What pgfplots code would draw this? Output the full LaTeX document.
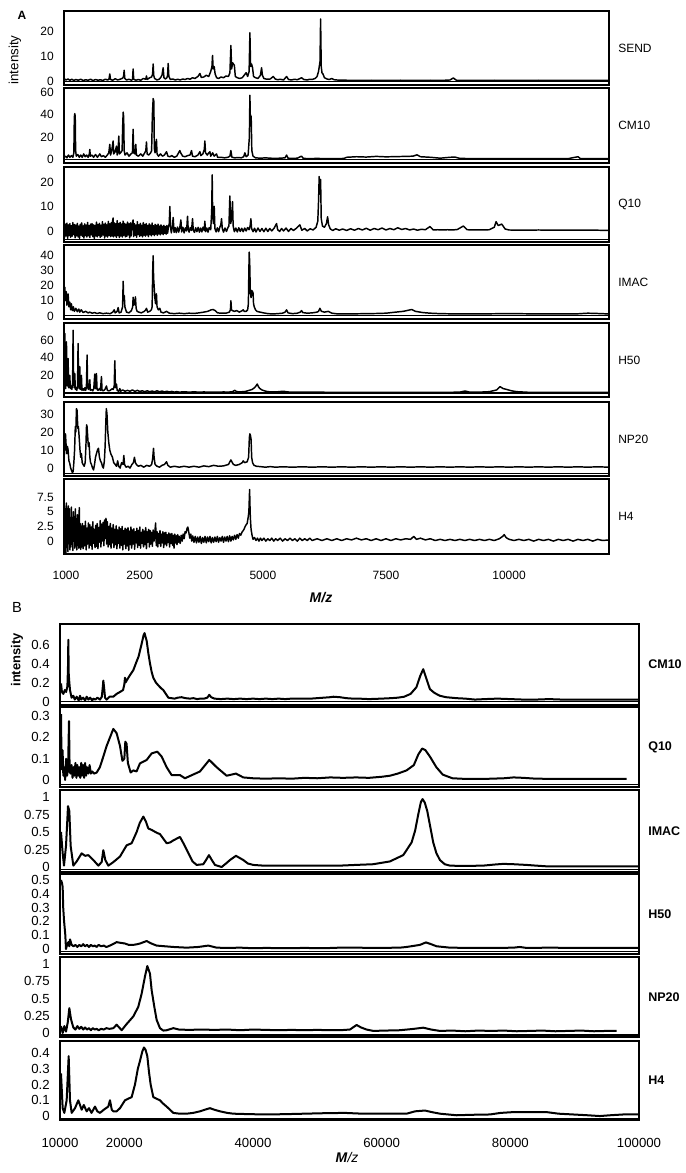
\documentclass[border=0pt]{standalone}
\usepackage{pgfplots}
\pgfplotsset{compat=1.18}
\usepackage{fontspec}
\setmainfont{Liberation Sans}
\pgfplotsset{
 basepanel/.style={scale only axis, anchor=north west, major tick length=0pt, clip mode=individual,
   xtick=\empty, scaled x ticks=false, scaled y ticks=false, /pgf/number format/assume math mode=true,
   extra y tick labels={}, extra y tick style={grid=major, major grid style={black, line width=0.8pt}}},
 panelA/.style={basepanel, width=408.75pt, xmin=960, xmax=12030, axis line style={line width=1.3pt},
   yticklabel style={font=\fontsize{9}{10}\selectfont, inner sep=0pt, xshift=-7.5pt}},
 panelB/.style={basepanel, width=434.25pt, xmin=10000, xmax=100000, axis line style={line width=0.9pt},
   yticklabel style={font=\fontsize{9.9}{11}\selectfont, inner sep=0pt, xshift=-7.5pt}},
 specA/.style={black, line width=1.1pt, line join=round},
 specB/.style={black, line width=1.5pt, line join=round},
}
\tikzset{
 labA/.style={anchor=west, inner sep=0pt, xshift=6.75pt, font=\fontsize{9}{10}\selectfont},
 labB/.style={anchor=west, inner sep=0pt, xshift=6.75pt, font=\bfseries\fontsize{9.4}{10}\selectfont},
}
\begin{document}
\begin{tikzpicture}
\path[use as bounding box] (0,0) rectangle (513.75pt,879.75pt);
% ---------------- Panel A ----------------
\begin{axis}[panelA, at={(48pt,871.5pt)}, height=55.5pt, ymin=-1.4, ymax=28.2,
  ytick={0,10,20}, yticklabels={0,10,20}, extra y ticks={0}]
\addplot[specA] coordinates {(960,1.2)(1000,0.6)(1040,1.0)(1080,0.5)(1120,0.9)(1160,0.4)(1200,0.8)(1250,0.5)(1300,0.9)(1350,0.4)(1400,0.7)(1450,0.5)(1500,0.9)(1550,0.4)(1600,0.8)(1650,0.5)(1700,0.7)(1750,0.4)(1800,0.9)(1850,0.6)(1875,1.0)(1890,3.0)(1905,0.8)(1950,0.5)(2000,1.1)(2050,0.6)(2100,0.9)(2150,1.3)(2170,2.0)(2182,4.5)(2195,1.2)(2230,0.6)(2280,0.9)(2330,0.5)(2352,0.8)(2364,5.0)(2376,0.9)(2420,0.5)(2470,0.8)(2520,0.5)(2570,1.2)(2620,0.9)(2635,2.2)(2650,0.8)(2700,1.5)(2740,1.8)(2760,3.0)(2771,7.0)(2782,2.5)(2800,1.2)(2850,0.6)(2900,1.0)(2930,1.8)(2950,2.5)(2974,5.5)(2990,1.5)(3020,1.0)(3050,1.5)(3064,2.5)(3076,7.2)(3090,2.0)(3120,0.8)(3170,1.0)(3220,0.6)(3270,0.9)(3320,0.6)(3370,1.0)(3420,0.8)(3470,1.2)(3520,0.9)(3570,1.5)(3620,1.2)(3680,2.0)(3720,3.2)(3750,1.6)(3800,1.8)(3850,2.5)(3900,2.0)(3940,4.0)(3965,6.0)(3977,10.4)(3990,5.0)(4010,6.0)(4030,3.0)(4060,1.5)(4100,1.2)(4150,1.8)(4200,1.5)(4250,2.2)(4300,2.0)(4330,3.5)(4350,14.4)(4365,5.0)(4385,7.5)(4400,7.0)(4420,6.5)(4440,2.0)(4480,1.5)(4530,1.2)(4580,1.5)(4620,2.5)(4660,3.5)(4690,2.0)(4720,4.0)(4736,19.5)(4750,6.0)(4770,7.0)(4790,5.5)(4810,2.0)(4850,1.5)(4900,1.2)(4950,2.5)(4973,5.5)(4990,2.5)(5020,1.2)(5080,0.9)(5150,1.0)(5210,2.0)(5250,1.0)(5300,0.7)(5350,0.9)(5420,0.6)(5481,2.0)(5520,0.8)(5580,0.6)(5640,0.9)(5700,0.7)(5785,1.5)(5830,0.8)(5900,0.6)(5950,0.9)(6000,0.8)(6060,1.2)(6100,2.0)(6130,4.0)(6160,8.0)(6172,25.0)(6185,6.0)(6200,3.5)(6220,3.0)(6250,1.5)(6300,1.0)(6350,0.8)(6400,1.2)(6450,0.7)(6500,0.6)(6600,0.5)(6700,0.5)(6800,0.4)(6900,0.5)(7000,0.4)(7200,0.5)(7400,0.4)(7600,0.4)(7800,0.5)(8000,0.4)(8200,0.4)(8400,0.5)(8600,0.4)(8800,0.6)(8868,1.4)(8930,0.5)(9100,0.4)(9400,0.4)(9700,0.5)(10000,0.4)(10300,0.4)(10600,0.5)(10900,0.4)(11200,0.4)(11500,0.4)(11800,0.4)(12030,0.4)};
\node[labA] at (rel axis cs:1,0.5) {SEND};
\end{axis}
\begin{axis}[panelA, at={(48pt,813.75pt)}, height=56.25pt, ymin=-3.1, ymax=64,
  ytick={0,20,40,60}, yticklabels={0,20,40,60}, extra y ticks={0}]
\addplot[specA] coordinates {(960,2)(990,3)(1020,1.5)(1050,4)(1080,2)(1110,3.5)(1140,2)(1160,6)(1170,38)(1179,41)(1188,39)(1196,8)(1210,3)(1240,4.5)(1270,2)(1300,4)(1330,2)(1360,5)(1390,2.5)(1420,4)(1450,2)(1475,5)(1484,9)(1495,3)(1530,4)(1560,2)(1600,4.5)(1640,2)(1687,5)(1720,2.5)(1760,3.5)(1800,2)(1840,4)(1870,6)(1890,13.6)(1905,4)(1930,8)(1958,16.6)(1970,5)(2000,7)(2026,12)(2040,4)(2060,9)(2073,21)(2085,5)(2110,6)(2140,8)(2152,30)(2162,42.4)(2172,38)(2182,8)(2200,4)(2240,6)(2280,3)(2320,5)(2350,6)(2364,27)(2376,6)(2405,5)(2418,13.6)(2430,4)(2470,3)(2520,5)(2560,3)(2600,6)(2622,8)(2635,15.7)(2648,5)(2680,4)(2720,6)(2740,8)(2755,40)(2771,54.5)(2785,52)(2795,10)(2810,6)(2838,18)(2850,5)(2880,3)(2920,5)(2960,3)(3000,4)(3042,7)(3070,3)(3110,2.5)(3150,3.5)(3200,2)(3250,3)(3300,7)(3313,8)(3330,6)(3370,3)(3420,2.5)(3470,3.5)(3520,4)(3550,8)(3570,3)(3620,2.5)(3680,4)(3720,7)(3740,3.5)(3780,5)(3810,9)(3821,16.6)(3835,6)(3870,4)(3900,6)(3923,7)(3940,3)(3980,6)(4010,3)(4058,5)(4080,2)(4150,2)(4220,1.5)(4290,2)(4330,3)(4350,8)(4370,2)(4430,1.5)(4500,1.8)(4560,1.5)(4610,2.5)(4634,6)(4660,2.5)(4700,4)(4725,20)(4736,57.5)(4748,30)(4762,38.8)(4775,8)(4800,3)(4850,1.5)(4950,1.2)(5050,1.5)(5150,1.2)(5250,1.0)(5350,1.2)(5450,1.5)(5481,4)(5510,1.2)(5600,1.0)(5700,1.2)(5785,3)(5820,1.0)(5950,0.8)(6100,1.0)(6250,0.8)(6400,0.8)(6550,0.8)(6650,1.0)(6700,2.0)(6900,2.5)(7100,2.2)(7300,2.8)(7500,2.4)(7700,2.6)(7900,2.8)(8050,3.0)(8130,4.2)(8200,2.5)(8400,2.0)(8600,1.2)(8800,2.0)(8900,2.2)(9000,1.0)(9300,0.8)(9600,0.8)(10000,0.8)(10400,0.8)(10800,0.8)(11200,0.8)(11400,2.5)(11450,0.8)(11800,0.8)(12030,0.8)};
\node[labA] at (rel axis cs:1,0.5) {CM10};
\end{axis}
\begin{axis}[panelA, at={(48pt,754.5pt)}, height=56.25pt, ymin=-4.5, ymax=26.1,
  ytick={0,10,20}, yticklabels={0,10,20}, extra y ticks={-3.3}]
\addplot[specA] coordinates {(960,3)(975,-2.5)(990,2.8)(1005,-2)(1020,3.2)(1035,-3)(1050,2.5)(1065,-1.8)(1080,3)(1095,-2.6)(1110,2.2)(1125,-2.2)(1140,3.4)(1155,-1.5)(1170,2.6)(1185,-2.8)(1200,2.4)(1215,-2)(1230,3.1)(1245,-2.4)(1260,2)(1275,-3)(1290,2.7)(1305,-1.7)(1320,3.3)(1335,-2.2)(1350,2.1)(1365,-2.9)(1380,2.9)(1395,-1.9)(1410,2.4)(1425,-2.5)(1440,3.5)(1455,-2)(1470,2.2)(1485,-2.7)(1500,2.8)(1515,-1.6)(1530,3)(1545,-2.3)(1560,2.5)(1575,-3.1)(1590,2.3)(1605,-2)(1620,3.6)(1635,-2.4)(1650,2.6)(1665,-1.8)(1680,3.1)(1695,-2.6)(1710,2.4)(1725,-2.2)(1740,3.8)(1755,-1.7)(1770,2.7)(1785,-2.9)(1800,3.2)(1815,-2.1)(1830,2.5)(1845,-2.5)(1860,3.9)(1875,-1.8)(1890,2.9)(1905,-2.3)(1920,3.4)(1935,-2)(1950,4.5)(1958,5.3)(1965,-2.4)(1980,3.3)(1995,-2)(2010,3)(2025,-2.6)(2040,4.2)(2055,-1.9)(2070,3)(2085,-2.7)(2100,3.5)(2115,-2.1)(2130,2.8)(2145,-2.5)(2160,4)(2175,-1.8)(2190,3.1)(2205,-2.4)(2220,2.7)(2235,-2.2)(2250,3.6)(2265,-1.6)(2280,2.9)(2295,-2.8)(2310,3.3)(2325,-2)(2340,2.6)(2352,3.5)(2364,4.5)(2376,-2.3)(2390,3)(2405,-1.8)(2420,2.4)(2435,-2.6)(2450,3.8)(2465,-1.5)(2480,2.5)(2495,-2.2)(2510,3.1)(2525,-1.9)(2540,2.3)(2555,-2.4)(2570,3.4)(2585,-1.7)(2600,2.6)(2615,-2.1)(2630,3)(2645,-1.6)(2660,2.2)(2675,-2.3)(2690,2.9)(2705,-1.5)(2720,2.4)(2735,-2)(2750,3.2)(2765,-1.4)(2780,2.1)(2795,-1.9)(2810,2.7)(2825,-1.3)(2840,2.3)(2855,-1.8)(2870,2.8)(2885,-1.2)(2900,2)(2915,-1.6)(2930,2.5)(2945,-1.1)(2960,1.9)(2975,-1.5)(2990,2.3)(3005,-1)(3020,1.8)(3035,-1.3)(3050,2.2)(3065,-0.9)(3080,1.5)(3098,3)(3110,10)(3122,2)(3140,-0.8)(3160,1.5)(3178,5.5)(3195,-0.6)(3215,1.4)(3240,-0.7)(3265,1.6)(3290,-0.5)(3310,1.2)(3334,4.5)(3350,-0.4)(3375,1.5)(3400,-0.8)(3425,1.3)(3450,0)(3469,6)(3482,1)(3500,-0.5)(3525,1.4)(3550,0.2)(3571,5)(3585,0.5)(3610,-0.6)(3635,1.3)(3660,-0.3)(3685,1.5)(3710,-0.5)(3735,1.2)(3760,-0.4)(3785,1.6)(3810,0.2)(3821,4)(3835,-0.3)(3860,1.2)(3885,-0.5)(3910,1.4)(3940,0.5)(3960,8)(3970,22.9)(3980,6)(3996,3)(4011,10)(4025,1)(4050,-0.4)(4075,1.3)(4100,-0.3)(4125,1.5)(4145,2.5)(4160,5)(4175,1)(4200,-0.5)(4230,1.2)(4260,-0.2)(4290,1.4)(4310,2)(4329,14.3)(4345,3)(4365,5)(4383,12)(4396,2)(4420,-0.3)(4450,1.2)(4480,-0.4)(4510,1.3)(4540,-0.2)(4570,1.1)(4600,-0.3)(4630,1.2)(4660,0)(4690,1.4)(4720,0.5)(4740,2)(4756,5)(4770,1)(4800,-0.3)(4830,1.1)(4860,-0.4)(4900,1.2)(4940,-0.2)(4980,1.0)(5020,-0.3)(5060,1.1)(5100,-0.2)(5140,1.0)(5180,0)(5230,1.2)(5277,3)(5300,0.5)(5340,-0.2)(5380,1.0)(5420,0)(5470,1.2)(5520,-0.2)(5570,1.0)(5620,0.2)(5680,1.1)(5751,2.5)(5790,0.3)(5850,1.0)(5900,0)(5960,0.9)(6020,0.4)(6080,1.5)(6115,4)(6130,12)(6143,22.2)(6160,15)(6172,21)(6185,5)(6210,2)(6250,1.5)(6290,3)(6314,5.8)(6335,2.5)(6370,0.8)(6420,0.2)(6480,0.9)(6550,0.3)(6620,0.8)(6700,0.2)(6780,0.9)(6860,0.3)(6940,1)(7020,0.4)(7100,1.1)(7180,0.3)(7260,1)(7340,0.5)(7420,1.2)(7500,0.4)(7580,1)(7660,0.5)(7740,1.3)(7820,0.6)(7900,1)(7980,0.4)(8060,0.8)(8140,0.3)(8220,0.7)(8300,0.5)(8394,1.8)(8460,0.4)(8550,0.5)(8650,0.4)(8750,0.5)(8850,0.4)(8950,0.6)(9071,2)(9150,0.5)(9300,0.4)(9450,0.4)(9600,0.5)(9700,1.5)(9736,3.8)(9780,2.2)(9851,2.8)(9920,0.8)(10000,0.4)(10200,0.3)(10400,0.3)(10600,0.4)(10800,0.3)(11000,0.3)(11200,0.3)(11400,0.3)(11600,0.3)(11800,0.3)(12030,0.2)};
\node[labA] at (rel axis cs:1,0.5) {Q10};
\end{axis}
\begin{axis}[panelA, at={(48pt,696pt)}, height=55.5pt, ymin=-2, ymax=46.5,
  ytick={0,10,20,30,40}, yticklabels={0,10,20,30,40}, extra y ticks={0}]
\addplot[specA] coordinates {(960,19)(976,18.8)(990,10)(1005,16)(1020,7)(1043,14.4)(1060,6)(1080,9)(1095,4)(1110,8)(1130,3.5)(1150,6)(1170,3)(1200,5)(1230,2.8)(1260,4.5)(1280,2.5)(1310,4)(1350,2.2)(1400,3)(1450,2)(1484,2.5)(1530,1.8)(1580,2.2)(1630,1.6)(1687,2)(1750,1.5)(1820,1.8)(1900,1.5)(1950,2.5)(1980,4)(2000,2)(2040,3)(2060,5.5)(2080,2)(2120,2.5)(2150,6)(2162,22.7)(2172,10)(2185,13.3)(2196,6)(2215,4)(2230,2.5)(2280,2)(2330,3.5)(2355,6)(2364,12.2)(2375,7)(2395,8)(2411,12.5)(2425,5)(2445,3)(2480,2.5)(2530,2)(2590,3)(2620,4)(2635,5)(2660,2.5)(2700,3)(2735,4)(2750,6)(2762,30)(2771,39.5)(2780,25)(2790,20)(2805,12)(2820,8)(2838,14.4)(2850,6)(2875,4)(2906,5)(2930,2.5)(2980,2)(3042,3)(3100,1.8)(3200,1.5)(3300,1.8)(3400,1.5)(3500,1.8)(3600,1.6)(3700,2)(3800,2.5)(3880,3)(3950,4)(3990,4.2)(4030,3.5)(4080,2)(4150,1.8)(4250,1.8)(4320,2.5)(4340,4)(4350,10)(4362,4)(4380,3.5)(4420,3)(4470,3.5)(4520,2.5)(4580,3.5)(4600,4)(4620,3)(4660,3)(4690,4)(4705,8)(4715,30)(4722,41.8)(4732,35)(4745,15)(4760,12)(4775,16.6)(4790,16)(4800,15)(4810,8)(4824,6)(4850,4)(4878,3)(4940,2.5)(5013,2)(5100,1.5)(5200,1.3)(5300,1.5)(5400,1.8)(5450,2.5)(5481,4)(5510,2)(5600,1.5)(5700,1.8)(5760,2.5)(5785,3.5)(5810,2.2)(5900,1.8)(6000,2)(6100,2.5)(6130,3)(6158,5)(6190,3)(6250,2.5)(6328,3)(6400,1.8)(6500,1.4)(6700,1.3)(6900,1.4)(7100,1.5)(7300,1.6)(7500,1.8)(7700,2.5)(7850,3)(8022,4.2)(8100,3)(8250,2.2)(8400,1.8)(8600,1.5)(8800,1.4)(9000,1.4)(9300,1.3)(9600,1.4)(9900,1.5)(10100,1.5)(10400,1.4)(10700,1.3)(11000,1.3)(11400,1.4)(11600,1.8)(11800,1.6)(12030,1.3)};
\node[labA] at (rel axis cs:1,0.5) {IMAC};
\end{axis}
\begin{axis}[panelA, at={(48pt,637.5pt)}, height=55.5pt, ymin=-4.5, ymax=79.3,
  ytick={0,20,40,60}, yticklabels={0,20,40,60}, extra y ticks={0}]
\addplot[specA] coordinates {(960,65)(970,30)(976,67.6)(985,20)(995,5)(1010,58)(1020,15)(1030,8)(1043,39)(1055,6)(1065,10)(1077,20)(1090,5)(1105,8)(1120,4)(1135,12)(1145,71)(1155,15)(1165,6)(1179,22)(1190,4)(1205,6)(1220,3)(1235,8)(1246,56)(1256,12)(1266,5)(1280,30)(1292,4)(1305,6)(1314,20)(1325,3)(1345,5)(1365,3)(1385,6)(1400,3)(1415,6)(1429,43)(1440,8)(1455,4)(1470,6)(1484,15)(1495,3)(1520,4)(1545,2.5)(1565,5)(1585,21.5)(1600,5)(1619,22)(1632,4)(1650,3)(1680,5)(1700,3)(1721,18.5)(1733,3)(1760,2.5)(1790,4)(1823,8)(1840,3)(1870,2.5)(1900,3)(1940,5)(1960,4)(1980,8)(1992,36.6)(2005,6)(2026,10)(2040,3)(2070,2)(2094,5)(2110,2)(2150,3.5)(2200,2)(2250,3)(2300,2)(2350,3.5)(2400,1.8)(2450,3)(2500,1.8)(2550,2.5)(2600,1.5)(2650,2.5)(2700,1.5)(2750,2.2)(2800,1.4)(2850,2.5)(2900,1.4)(2950,2.2)(3000,1.2)(3050,2)(3100,1.2)(3150,1.8)(3200,1)(3250,1.6)(3300,1)(3400,1.4)(3500,1)(3600,1.3)(3700,1)(3800,1.2)(3900,1)(4000,1.1)(4100,1)(4200,1.2)(4300,1)(4380,1.5)(4430,3)(4470,1.5)(4550,1.3)(4650,1.8)(4720,3)(4780,4)(4830,6)(4860,8)(4885,10.2)(4910,7)(4940,5)(4980,3.5)(5030,2.5)(5100,1.5)(5200,1.2)(5300,1.4)(5413,2)(5500,1.2)(5600,1)(5700,1)(5800,1.1)(6000,0.9)(6200,0.9)(6400,0.8)(6700,0.8)(7000,0.8)(7300,0.8)(7600,0.8)(7900,0.8)(8200,0.8)(8500,0.8)(8800,0.8)(9000,1)(9106,2.3)(9200,1)(9400,1)(9600,1.5)(9750,3.5)(9817,7.2)(9880,5)(9953,4)(10050,2.5)(10156,1.5)(10400,0.8)(10800,0.8)(11200,0.8)(11600,0.8)(12030,0.8)};
\node[labA] at (rel axis cs:1,0.5) {H50};
\end{axis}
\begin{axis}[panelA, at={(48pt,578.25pt)}, height=55.5pt, ymin=-4.4, ymax=36.7,
  ytick={0,10,20,30}, yticklabels={0,10,20,30}, extra y ticks={-2.8}]
\addplot[specA] coordinates {(960,5)(976,12)(990,19)(1000,14)(1015,8)(1030,12)(1043,10)(1060,4)(1077,2.6)(1095,0)(1110,-1)(1130,-2.5)(1145,-2)(1160,3)(1175,10)(1190,23)(1200,20)(1213,33)(1226,32)(1240,22)(1252,23)(1266,18)(1285,10)(1300,6)(1314,8)(1330,3)(1348,2)(1370,1)(1390,3)(1405,12)(1418,24)(1429,23)(1440,18)(1455,12)(1470,14)(1485,6)(1500,3)(1518,2)(1540,0)(1560,-1)(1580,2)(1600,6)(1619,8)(1640,10)(1660,11)(1680,6)(1700,4)(1721,3)(1740,1)(1760,0)(1780,4)(1795,12)(1809,25)(1820,33)(1833,30)(1850,20)(1870,14)(1890,10)(1910,8)(1944,6)(1970,3)(2000,2)(2026,1)(2050,4)(2070,1)(2100,0)(2130,3)(2160,2)(2175,7)(2190,2)(2220,0.5)(2260,1)(2300,0)(2340,2)(2370,3)(2391,6)(2410,3)(2430,2)(2470,1)(2520,1.5)(2580,0.5)(2640,1.5)(2700,1)(2740,2)(2760,5)(2778,11)(2790,6)(2810,2)(2850,1)(2900,0.5)(2950,1.5)(3000,2)(3042,3.5)(3070,1.5)(3120,0.5)(3200,1)(3300,0.5)(3400,1)(3500,0.5)(3600,1)(3700,0.5)(3800,1.2)(3900,0.8)(4000,1.5)(4100,1)(4200,1.2)(4300,2)(4350,4.5)(4400,2)(4450,1.5)(4520,2)(4580,3)(4600,4)(4630,3)(4680,3.5)(4710,6)(4725,17)(4736,19)(4748,18)(4760,16)(4772,6)(4790,3)(4820,1.5)(4870,1)(4950,0.8)(5050,0.5)(5150,0.8)(5250,0.5)(5400,0.7)(5600,0.5)(5800,0.7)(6000,0.5)(6200,0.7)(6400,0.5)(6600,0.7)(6800,0.5)(7000,0.7)(7200,0.5)(7400,0.7)(7600,0.5)(7800,0.7)(8000,0.5)(8200,0.7)(8400,0.5)(8600,0.7)(8800,0.5)(9000,0.7)(9200,0.5)(9400,0.7)(9600,0.5)(9800,0.7)(10000,0.5)(10200,0.7)(10400,0.5)(10600,0.7)(10800,0.5)(11000,0.7)(11200,0.5)(11400,0.7)(11600,0.5)(11800,0.7)(12030,0.5)};
\node[labA] at (rel axis cs:1,0.5) {NP20};
\end{axis}
\begin{axis}[panelA, at={(48pt,520.5pt)}, height=56.25pt, ymin=-2.2, ymax=10.6,
  ytick={0,2.5,5,7.5}, yticklabels={0,2.5,5,7.5},
  xtick={1000,2500,5000,7500,10000}, xticklabels={1000,2500,5000,7500,10000},
  xticklabel style={font=\fontsize{9}{10}\selectfont, inner sep=0pt, anchor=north, yshift=-12.5pt}]
\addplot[specA] coordinates {(960,1)(970,6)(980,-1.5)(990,5)(1000,-2)(1010,6.5)(1020,-1)(1030,4.5)(1040,-1.8)(1050,6)(1060,0)(1070,5.5)(1080,-1.5)(1090,4)(1100,-1)(1110,5.8)(1120,-0.5)(1130,3.5)(1140,-1.6)(1150,5)(1160,0.5)(1170,4.2)(1180,-1.2)(1190,5.5)(1200,-0.8)(1210,3.8)(1220,-1.5)(1230,4.5)(1240,0)(1250,3.2)(1260,-1.2)(1270,5.7)(1280,-0.6)(1290,3)(1300,-1.4)(1310,2.5)(1320,-1)(1335,3)(1350,-1.3)(1365,2.6)(1380,-0.8)(1395,3.4)(1410,-1.5)(1425,2.2)(1440,-0.5)(1455,3.1)(1470,-1.2)(1485,2.8)(1500,-0.7)(1515,2.4)(1530,-1.4)(1545,3.3)(1560,-0.4)(1575,2)(1590,-1.1)(1605,2.7)(1620,-0.9)(1635,3)(1650,-1.3)(1665,2.3)(1680,-0.2)(1695,3.5)(1710,-1)(1725,2.9)(1740,0)(1755,3.2)(1770,-0.8)(1785,3.6)(1800,0.5)(1813,3.9)(1825,-0.5)(1840,3.3)(1855,-1)(1870,2.5)(1885,-0.6)(1900,3)(1915,-1.2)(1930,2.2)(1945,-0.3)(1960,2.8)(1975,-1.1)(1990,2)(2005,-0.6)(2020,2.6)(2035,-1.3)(2050,1.9)(2065,-0.4)(2080,2.4)(2095,-1.2)(2110,2.1)(2125,-0.7)(2140,2.5)(2155,-1.5)(2170,1.8)(2185,-0.5)(2200,2.2)(2215,-1.3)(2230,2)(2245,-0.8)(2260,2.3)(2275,-1.6)(2290,1.7)(2305,-0.6)(2320,2.4)(2335,-1.2)(2350,1.9)(2365,-0.5)(2380,2.1)(2395,-1.4)(2410,1.6)(2425,-0.3)(2440,2.2)(2455,-1.1)(2470,1.8)(2485,-0.7)(2500,2.4)(2515,-1.2)(2530,1.5)(2545,-0.4)(2560,2)(2575,-1)(2590,1.7)(2605,-0.6)(2620,2.3)(2635,-1.3)(2650,1.6)(2665,-0.2)(2680,2)(2695,-1)(2710,1.8)(2725,-0.5)(2740,1.5)(2755,-0.9)(2770,1.9)(2790,0)(2805,1.5)(2821,3.1)(2835,-0.8)(2850,1.6)(2865,-1)(2880,1.3)(2895,-0.4)(2910,1.8)(2925,-0.9)(2940,1.2)(2955,-0.3)(2970,1.6)(2985,-1.1)(3000,1.4)(3015,-0.5)(3030,1.5)(3045,-0.8)(3060,1.1)(3075,-0.2)(3090,1.4)(3105,-1)(3120,1.2)(3135,-0.4)(3150,1.3)(3165,-0.7)(3180,1)(3195,-1.2)(3210,1.2)(3225,-0.3)(3240,0.9)(3255,-0.6)(3270,1.1)(3285,-0.2)(3300,0.8)(3320,-0.4)(3340,1)(3360,0)(3380,1.2)(3400,0.4)(3420,1.6)(3440,1.4)(3460,2.2)(3476,2.4)(3495,1.5)(3515,0.5)(3535,1.2)(3555,0)(3575,0.9)(3600,-0.2)(3625,0.8)(3650,-0.3)(3675,0.7)(3700,-0.2)(3725,0.8)(3750,-0.4)(3775,0.6)(3800,-0.2)(3825,0.8)(3850,-0.3)(3875,0.7)(3900,-0.1)(3925,0.8)(3950,-0.3)(3975,0.6)(4000,-0.2)(4025,0.7)(4050,-0.1)(4075,0.8)(4100,-0.2)(4125,0.6)(4150,0)(4175,0.8)(4200,-0.2)(4225,0.7)(4250,0)(4275,0.8)(4300,-0.1)(4325,0.9)(4350,0)(4375,0.8)(4400,0.2)(4425,1)(4450,0.3)(4475,1.1)(4500,0.5)(4525,1.3)(4550,1)(4580,1.6)(4610,1.9)(4640,2.5)(4660,2.8)(4680,3)(4700,4)(4715,5)(4730,8.8)(4738,6)(4745,4)(4760,2)(4780,1)(4800,0.3)(4830,0.6)(4860,0.1)(4890,0.5)(4920,0)(4950,0.5)(4980,0.1)(5020,0.5)(5060,0)(5100,0.4)(5140,0.1)(5180,0.5)(5220,0)(5260,0.4)(5300,0.1)(5350,0.5)(5400,0)(5450,0.4)(5500,0.1)(5550,0.5)(5600,0.1)(5650,0.4)(5700,0)(5750,0.5)(5800,0.1)(5850,0.4)(5900,0.1)(5950,0.5)(6000,0.1)(6100,0.4)(6200,0.1)(6300,0.4)(6400,0.1)(6500,0.4)(6600,0.1)(6700,0.4)(6800,0.2)(6900,0.5)(7000,0.2)(7100,0.4)(7200,0.1)(7300,0.4)(7400,0.1)(7500,0.4)(7600,0.1)(7700,0.4)(7800,0.2)(7900,0.4)(8000,0.3)(8063,0.8)(8120,0.3)(8200,0.5)(8300,0.2)(8400,0.4)(8500,0.1)(8600,0.3)(8700,0.1)(8800,0.3)(8900,0.1)(9000,0.3)(9100,0.1)(9200,0.3)(9300,0.1)(9400,0.3)(9500,0.1)(9600,0.3)(9700,0.1)(9800,0.4)(9870,0.8)(9900,1.1)(9940,0.6)(10000,0.3)(10100,0.1)(10200,0.3)(10300,0.1)(10400,0.3)(10500,0)(10600,0.3)(10700,0.1)(10800,0.3)(10900,0)(11000,0.3)(11100,0.1)(11200,0.3)(11300,0)(11400,0.3)(11500,0.1)(11600,0.3)(11700,0)(11800,0.3)(11900,0.1)(12030,0.2)};
\node[labA] at (rel axis cs:1,0.5) {H4};
\end{axis}
\node[font=\bfseries\fontsize{9}{10}\selectfont] at (16.5pt,868.5pt) {A};
\node[rotate=90, font=\fontsize{10}{11}\selectfont] at (11.25pt,834.75pt) {intensity};
\node[font=\bfseries\itshape\fontsize{10.5}{12}\selectfont] at (240.75pt,431.25pt) {M/z};
% ---------------- Panel B ----------------
\begin{axis}[panelB, at={(45pt,411.75pt)}, height=60.75pt, ymin=-0.037, ymax=0.816,
  ytick={0,0.2,0.4,0.6}, yticklabels={0,0.2,0.4,0.6}, extra y ticks={0}]
\addplot[specB] coordinates {(10155,0.19)(10300,0.1)(10518,0.08)(10750,0.12)(10950,0.1)(11150,0.16)(11240,0.35)(11295,0.65)(11350,0.3)(11450,0.2)(11554,0.12)(11800,0.04)(12072,0.06)(12300,0.02)(12600,0.05)(12900,0.01)(13108,0.06)(13300,0.02)(13600,0.04)(13900,0.01)(14144,0.05)(14400,0.02)(14700,0.04)(15000,0.01)(15180,0.03)(15500,0.02)(15800,0.04)(16216,0.02)(16500,0.05)(16650,0.15)(16734,0.22)(16850,0.15)(17000,0.04)(17252,0.02)(17700,0.05)(18288,0.05)(18800,0.08)(19324,0.1)(19800,0.12)(20000,0.18)(20100,0.25)(20200,0.2)(20360,0.22)(20900,0.28)(21400,0.33)(21900,0.42)(22200,0.47)(22700,0.61)(23000,0.7)(23150,0.72)(23300,0.68)(23470,0.64)(23750,0.5)(23990,0.4)(24250,0.31)(24500,0.25)(24900,0.2)(25280,0.17)(25700,0.14)(26060,0.12)(26450,0.08)(26840,0.04)(27300,0.035)(27800,0.03)(28300,0.04)(28900,0.045)(29500,0.035)(30200,0.03)(30720,0.035)(31300,0.025)(31800,0.03)(32400,0.03)(32900,0.04)(33200,0.07)(33500,0.045)(34000,0.03)(35000,0.025)(36000,0.03)(37000,0.025)(38000,0.03)(39000,0.025)(40000,0.03)(41000,0.025)(42000,0.03)(43000,0.025)(44000,0.03)(45000,0.025)(46000,0.03)(47000,0.03)(48000,0.03)(49000,0.03)(50000,0.035)(51000,0.04)(52000,0.045)(52500,0.05)(53500,0.045)(54500,0.035)(55500,0.03)(56500,0.03)(58000,0.025)(60000,0.03)(61500,0.035)(62500,0.04)(63500,0.05)(64500,0.08)(65400,0.15)(66000,0.27)(66460,0.34)(66900,0.25)(67500,0.13)(68200,0.09)(69050,0.06)(70000,0.045)(71600,0.035)(73000,0.03)(74500,0.02)(76000,0.025)(78000,0.03)(80000,0.025)(82000,0.02)(84000,0.02)(86000,0.025)(88000,0.02)(90000,0.02)(92000,0.02)(94000,0.02)(96000,0.02)(98000,0.02)(100000,0.02)};
\node[labB] at (rel axis cs:1,0.5) {CM10};
\end{axis}
\begin{axis}[panelB, at={(45pt,349.5pt)}, height=60pt, ymin=-0.033, ymax=0.343,
  ytick={0,0.1,0.2,0.3}, yticklabels={0,0.1,0.2,0.3}, extra y ticks={-0.023}]
\addplot[specB] coordinates {(10155,0.31)(10250,0.05)(10400,0.14)(10518,0.02)(10650,0.06)(10800,0.0)(10950,0.1)(11100,0.02)(11250,0.05)(11400,0.277)(11500,0.04)(11650,0.03)(11800,0.07)(11950,0.01)(12100,0.06)(12250,0.02)(12400,0.08)(12550,0.01)(12700,0.07)(12850,0.02)(13000,0.06)(13150,0.01)(13300,0.08)(13450,0.02)(13600,0.07)(13750,0.01)(13900,0.08)(14050,0.02)(14200,0.06)(14400,0.03)(14600,0.07)(14800,0.03)(15000,0.04)(15300,0.03)(15700,0.035)(16200,0.06)(16734,0.11)(17250,0.16)(17770,0.2)(18288,0.24)(18800,0.22)(19324,0.16)(19700,0.09)(20000,0.1)(20153,0.18)(20350,0.17)(20550,0.08)(20982,0.035)(21400,0.045)(21900,0.04)(22432,0.078)(23468,0.094)(24250,0.125)(25126,0.133)(25800,0.11)(26576,0.06)(27350,0.023)(28648,0.023)(29420,0.008)(31756,0.04)(33206,0.094)(34346,0.06)(35900,0.02)(37350,0.03)(38490,0.012)(40000,0.008)(42000,0.006)(44000,0.008)(46000,0.006)(48000,0.01)(50000,0.008)(52000,0.012)(54000,0.01)(56000,0.012)(58000,0.01)(60000,0.015)(61282,0.02)(62500,0.03)(63872,0.045)(65000,0.07)(65700,0.12)(66300,0.148)(66800,0.14)(67500,0.11)(68500,0.06)(69500,0.025)(71000,0.008)(73000,0.005)(76000,0.005)(79000,0.008)(80500,0.012)(82000,0.01)(84000,0.006)(88000,0.005)(92000,0.005)(96000,0.005)(98060,0.005)};
\node[labB] at (rel axis cs:1,0.5) {Q10};
\end{axis}
\begin{axis}[panelB, at={(45pt,287.25pt)}, height=61.5pt, ymin=-0.071, ymax=1.1,
  ytick={0,0.25,0.5,0.75,1}, yticklabels={0,0.25,0.5,0.75,1}, extra y ticks={-0.036}]
\addplot[specB] coordinates {(10155,0.5)(10414,0.2)(10621,0.02)(10932,0.3)(11100,0.6)(11243,0.87)(11450,0.8)(11657,0.3)(12072,0.02)(12590,0.08)(13367,0.195)(13900,0.16)(14403,0.17)(15180,0.1)(15957,0.02)(16475,0.07)(16734,0.24)(17045,0.1)(17511,0.02)(18288,0.07)(19324,0.15)(20360,0.31)(21137,0.34)(21914,0.5)(22400,0.63)(22950,0.72)(23350,0.65)(23727,0.55)(24245,0.53)(25022,0.49)(25540,0.47)(26576,0.34)(27100,0.35)(27612,0.38)(28648,0.43)(29300,0.32)(29943,0.2)(30600,0.08)(31238,0.03)(32274,0.04)(32700,0.1)(33155,0.17)(33600,0.1)(34087,0.03)(35123,0.0)(35800,0.05)(36418,0.1)(37350,0.16)(38490,0.1)(39200,0.05)(40044,0.03)(41598,0.02)(44000,0.02)(47000,0.02)(50000,0.02)(53512,0.02)(56000,0.03)(58692,0.04)(61282,0.08)(63354,0.17)(64649,0.35)(65200,0.52)(65685,0.75)(66100,0.93)(66358,0.97)(66700,0.92)(67084,0.8)(67500,0.6)(68016,0.35)(68500,0.2)(69052,0.1)(69800,0.04)(70606,0.02)(72678,0.015)(75786,0.02)(77500,0.035)(78894,0.045)(80500,0.04)(82520,0.03)(84000,0.02)(85628,0.01)(90000,0.01)(95000,0.01)(100000,0.01)};
\node[labB] at (rel axis cs:1,0.5) {IMAC};
\end{axis}
\begin{axis}[panelB, at={(45pt,224.25pt)}, height=60pt, ymin=-0.036, ymax=0.544,
  ytick={0,0.1,0.2,0.3,0.4,0.5}, yticklabels={0,0.1,0.2,0.3,0.4,0.5}, extra y ticks={-0.0145}]
\addplot[specB] coordinates {(10155,0.5)(10300,0.48)(10414,0.45)(10500,0.3)(10621,0.21)(10828,0.1)(10932,0.0)(11100,0.03)(11295,0.05)(11450,0.02)(11554,0.07)(11813,0.03)(12100,0.02)(12400,0.03)(12700,0.015)(13000,0.03)(13300,0.02)(13600,0.035)(13900,0.02)(14200,0.03)(14500,0.015)(14800,0.03)(15100,0.02)(15400,0.025)(15700,0.015)(16000,0.03)(16400,0.02)(16800,0.025)(17200,0.015)(17511,0.02)(18000,0.03)(18806,0.05)(19400,0.045)(20100,0.04)(20700,0.03)(21396,0.03)(22000,0.035)(22432,0.04)(23000,0.05)(23468,0.058)(24200,0.04)(25022,0.025)(26300,0.02)(27612,0.015)(29684,0.01)(31500,0.015)(33050,0.025)(34346,0.01)(36000,0.008)(38000,0.01)(40000,0.006)(42000,0.008)(45000,0.006)(48000,0.008)(51000,0.006)(53512,0.01)(56000,0.01)(59000,0.008)(62836,0.01)(63872,0.015)(65944,0.03)(66876,0.048)(67700,0.035)(68534,0.02)(70606,0.01)(74000,0.008)(78000,0.008)(80500,0.01)(81484,0.015)(82500,0.008)(86146,0.01)(90000,0.008)(95000,0.008)(100000,0.008)};
\node[labB] at (rel axis cs:1,0.5) {H50};
\end{axis}
\begin{axis}[panelB, at={(45pt,162pt)}, height=60pt, ymin=-0.058, ymax=1.101,
  ytick={0,0.25,0.5,0.75,1}, yticklabels={0,0.25,0.5,0.75,1}, extra y ticks={-0.029}]
\addplot[specB] coordinates {(10155,0.1)(10414,0.0)(10673,0.1)(10932,0.02)(11200,0.15)(11450,0.36)(11709,0.2)(12072,0.08)(12400,0.05)(12700,0.1)(13000,0.06)(13300,0.09)(13600,0.05)(13900,0.08)(14200,0.05)(14500,0.07)(14800,0.04)(15100,0.07)(15400,0.05)(15700,0.06)(16000,0.04)(16400,0.06)(16800,0.05)(17200,0.07)(17700,0.06)(18288,0.07)(18806,0.12)(19583,0.04)(20360,0.13)(21396,0.24)(22173,0.38)(22691,0.57)(23210,0.82)(23572,0.97)(23986,0.86)(24245,0.62)(24659,0.38)(25022,0.19)(25540,0.07)(26058,0.035)(26576,0.04)(27612,0.07)(28500,0.05)(30000,0.045)(32000,0.05)(34000,0.045)(36000,0.05)(38000,0.04)(40000,0.05)(42000,0.045)(44000,0.04)(46000,0.045)(48000,0.04)(50000,0.045)(52000,0.04)(53512,0.04)(55066,0.05)(56102,0.116)(56800,0.08)(57656,0.05)(58692,0.03)(60500,0.035)(62836,0.04)(65000,0.06)(66462,0.077)(67700,0.05)(69052,0.03)(71000,0.035)(73000,0.025)(75000,0.035)(77000,0.03)(79000,0.035)(81000,0.025)(83000,0.03)(85000,0.035)(87000,0.025)(89000,0.03)(91000,0.035)(93000,0.025)(95000,0.03)(96506,0.03)};
\node[labB] at (rel axis cs:1,0.5) {NP20};
\end{axis}
\begin{axis}[panelB, at={(45pt,99pt)}, height=59.25pt, ymin=-0.025, ymax=0.476,
  ytick={0,0.1,0.2,0.3,0.4}, yticklabels={0,0.1,0.2,0.3,0.4}, extra y ticks={-0.013},
  xtick={10000,20000,40000,60000,80000,100000}, xticklabels={10000,20000,40000,60000,80000,100000},
  xticklabel style={font=\fontsize{9.9}{11}\selectfont, inner sep=0pt, anchor=north, yshift=-13.7pt}]
\addplot[specB] coordinates {(10155,0.27)(10414,0.05)(10673,0.02)(11036,0.1)(11347,0.38)(11554,0.1)(11813,0.02)(12331,0.05)(12849,0.1)(13367,0.04)(13700,0.07)(14144,0.03)(14500,0.05)(14900,0.02)(15439,0.06)(15800,0.03)(16216,0.02)(16800,0.04)(17500,0.06)(17770,0.1)(18050,0.04)(18288,0.03)(18800,0.03)(19324,0.05)(20101,0.1)(20600,0.11)(21137,0.12)(21655,0.2)(22100,0.3)(22432,0.35)(22800,0.41)(23054,0.435)(23300,0.42)(23572,0.38)(23830,0.28)(24090,0.2)(24504,0.12)(25000,0.11)(25540,0.1)(26000,0.08)(26576,0.06)(27100,0.04)(27612,0.02)(28600,0.015)(29684,0.015)(30700,0.02)(31756,0.03)(32500,0.04)(33310,0.05)(34000,0.04)(34864,0.03)(36000,0.02)(36936,0.015)(39500,0.012)(42116,0.01)(45000,0.012)(48000,0.015)(51000,0.018)(54289,0.02)(57000,0.015)(60000,0.015)(62500,0.015)(63872,0.015)(65200,0.03)(66721,0.035)(67800,0.025)(69052,0.015)(71642,0.005)(74000,0.008)(76822,0.01)(78500,0.02)(80448,0.025)(83000,0.025)(85628,0.025)(87500,0.015)(89772,0.01)(92000,0.005)(93916,0.0)(95500,0.005)(97542,0.01)(100000,0.01)};
\node[labB] at (rel axis cs:1,0.5) {H4};
\end{axis}
\node[font=\fontsize{11}{12}\selectfont] at (12.75pt,424.5pt) {B};
\node[rotate=90, font=\bfseries\fontsize{9.7}{11}\selectfont] at (12.75pt,384.75pt) {intensity};
\node[font=\fontsize{10.5}{12}\selectfont] at (260.25pt,12pt) {\textbf{\textit{M}}\textit{/z}};
\end{tikzpicture}
\end{document}
